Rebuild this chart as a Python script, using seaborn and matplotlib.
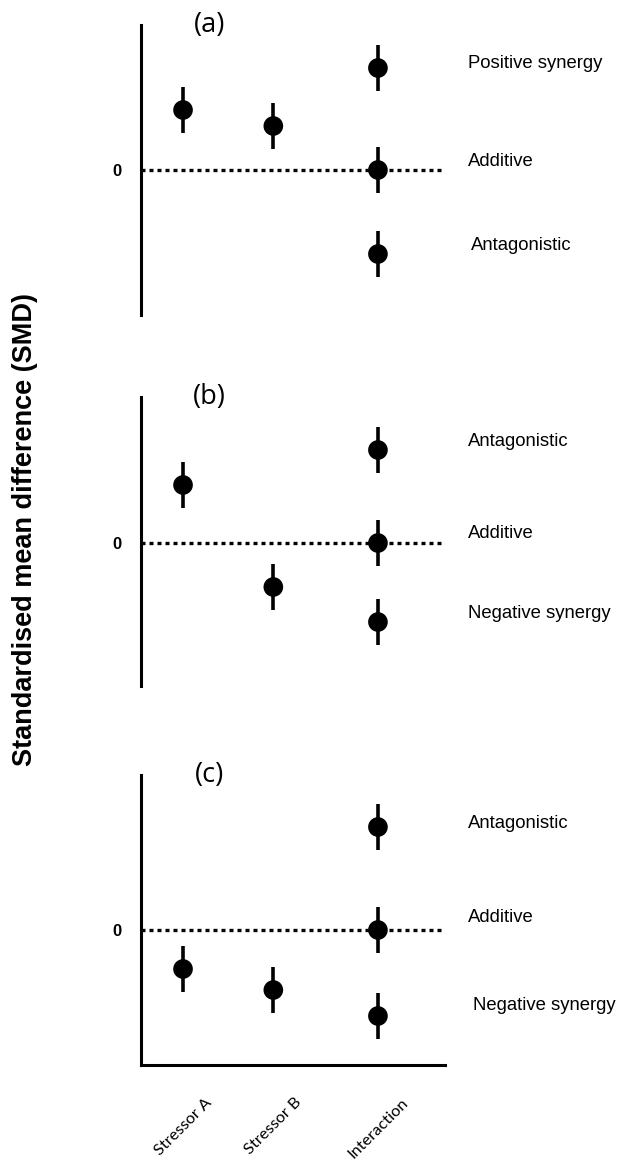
import matplotlib
matplotlib.use("Agg")
import matplotlib.pyplot as plt
import numpy as np
import pandas as pd
import seaborn as sns

# categories and their horizontal positions (as drawn in the original)
categories = ["Stressor A", "Stressor B", "Interaction"]
cat_pos = [0.47, 1.48, 2.65]

# panel (a): main effects and three possible interaction outcomes
a_main = [1.20, 0.88]
a_inter = [2.04, 0.0, -1.68]
a_labels = ["Positive synergy", "Additive", "Antagonistic"]

# panel (b)
b_main = [1.16, -0.88]
b_inter = [1.86, 0.0, -1.58]
b_labels = ["Antagonistic", "Additive", "Negative synergy"]

# panel (c)
c_main = [-0.78, -1.20]
c_inter = [2.06, 0.0, -1.72]
c_labels = ["Antagonistic", "Additive", "Negative synergy"]

ci_half = 0.46
panel_names = ["(a)", "(b)", "(c)"]

sns.set_theme(style="white")
plt.rcParams["font.family"] = ["Liberation Sans", "DejaVu Sans"]
plt.rcParams["text.color"] = "black"
plt.rcParams["xtick.color"] = "black"
plt.rcParams["ytick.color"] = "black"
plt.rcParams["axes.labelcolor"] = "black"

W, H = 617, 1169
fig = plt.figure(figsize=(W / 100, H / 100), dpi=100)


def px_axes(left, top, width, height):
    return fig.add_axes([left / W, 1 - (top + height) / H, width / W, height / H])


panels = [
    dict(top=25, height=290, ylim=(-2.9, 2.9), main=a_main, inter=a_inter,
         labels=a_labels, lab_dx=[0, 0, 0.012], lab_dy=[0.1, 0.18, 0.18]),
    dict(top=397, height=289, ylim=(-2.86, 2.92), main=b_main, inter=b_inter,
         labels=b_labels, lab_dx=[0, 0, 0], lab_dy=[0.16, 0.2, 0.16]),
    dict(top=775, height=290, ylim=(-2.7, 3.1), main=c_main, inter=c_inter,
         labels=c_labels, lab_dx=[0, 0.0, 0.018], lab_dy=[0.08, 0.24, 0.2]),
]

for i, p in enumerate(panels):
    ax = px_axes(141, p["top"], 304, p["height"])
    df = pd.DataFrame({
        "x": cat_pos[:2] + [cat_pos[2]] * 3,
        "smd": p["main"] + p["inter"],
    })
    ax.axhline(0, color="black", lw=2.4, ls=(0, (1.2, 1.2)), zorder=1)
    ax.vlines(df["x"], df["smd"] - ci_half, df["smd"] + ci_half,
              color="black", lw=2.6, zorder=2)
    sns.scatterplot(data=df, x="x", y="smd", ax=ax, color="black", s=200,
                    marker="o", edgecolor="none", zorder=3, legend=False)
    ax.set_xlim(0, 3.4)
    ax.set_ylim(*p["ylim"])
    ax.set_xlabel("")
    ax.set_ylabel("")
    ax.set_yticks([0])
    ax.set_yticklabels(["0"], fontweight="bold", fontsize=12)
    ax.tick_params(axis="y", length=0, pad=14)

    for side in ["top", "right"]:
        ax.spines[side].set_visible(False)
    ax.spines["left"].set_linewidth(2.2)
    ax.spines["left"].set_color("black")
    if i == 2:
        ax.spines["bottom"].set_linewidth(2.2)
        ax.spines["bottom"].set_color("black")
        ax.set_xticks(cat_pos)
        ax.set_xticklabels(categories, rotation=45, ha="center",
                           fontsize=11.8, family=["Lato", "DejaVu Sans"])
        ax.tick_params(axis="x", length=0, pad=22)
    else:
        ax.spines["bottom"].set_visible(False)
        ax.set_xticks([])

    for j, lab in enumerate(p["labels"]):
        ax.text(1.075 + p["lab_dx"][j], p["inter"][j] + p["lab_dy"][j], lab,
                transform=ax.get_yaxis_transform(), ha="left", va="center",
                fontsize=13.3, clip_on=False)

    ax.text(0.225, 1.0, panel_names[i], transform=ax.transAxes, ha="center",
            va="center", fontsize=19.5, family=["Open Sans", "DejaVu Sans"])

fig.text(25 / W, 1 - 529 / H, "Standardised mean difference (SMD)",
         rotation=90, ha="center", va="center", fontsize=19.5,
         fontweight="bold")

fig.savefig("out.png", dpi=100)
